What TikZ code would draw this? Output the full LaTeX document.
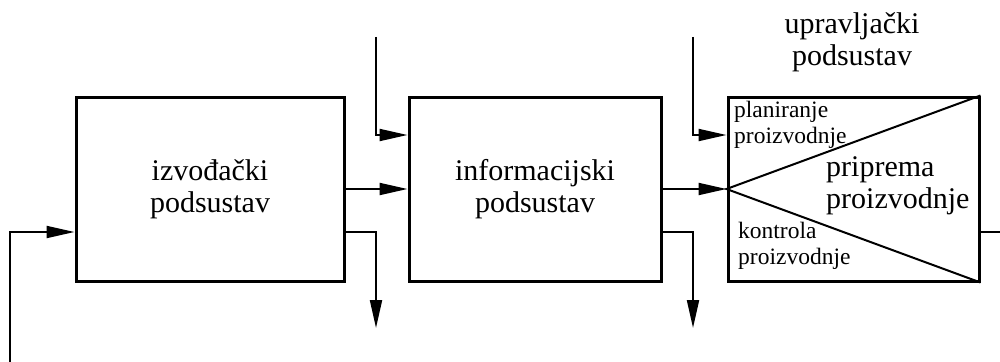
\documentclass[tikz,border=0pt]{standalone}
\usepackage{fontspec}
\setmainfont{Liberation Serif}
\usetikzlibrary{arrows.meta}
\tikzset{
  blok/.style={draw,line width=3pt,minimum width=268pt,minimum height=184pt,inner sep=0pt,
    align=center,font=\fontsize{30}{32}\selectfont},
  strel/.style={line width=2pt,-{Triangle[length=28pt,width=12pt]}},
  veza/.style={line width=2pt},
  mali/.style={inner sep=0pt,align=left,font=\fontsize{23.5}{26}\selectfont},
  veliki/.style={inner sep=0pt,align=left,font=\fontsize{30}{32}\selectfont}
}
\begin{document}
\begin{tikzpicture}[x=1pt,y=-1pt]
\useasboundingbox (0,0) rectangle (1000,361);
% blokovi
\node[blok] (izv) at (210,189) {izvođački\\podsustav};
\node[blok,minimum width=252pt] (inf) at (535,189) {informacijski\\podsustav};
\node[blok,minimum width=251pt] (upr) at (853.5,189) {};
\draw[line width=2pt] (upr.north east) -- (upr.west) -- (upr.south east);
\node[veliki,align=center,anchor=north] (naslov) at (852,12) {upravljački\\podsustav};
\node[mali,anchor=north west] (plan) at (734,101) {planiranje\\proizvodnje};
\node[mali,anchor=north west] (kontr) at (738,222) {kontrola\\proizvodnje};
\node[veliki,anchor=north west] (prip) at (826,156) {priprema\\proizvodnje};
% slobodni krajevi
\coordinate (ulaz1) at (376,37);
\coordinate (ulaz2) at (693,37);
\coordinate (izl1) at (376,328);
\coordinate (izl2) at (693,328);
\coordinate (povr) at (10,365);
\coordinate (desno) at (1004,232);
% veze
\draw[strel] (povr) |- ([yshift=-43pt]izv.west);
\draw[strel] (izv.east) -- (inf.west);
\draw[strel] ([yshift=-43pt]izv.east) -| (izl1);
\draw[strel] (ulaz1) |- ([yshift=54pt]inf.west);
\draw[strel] (inf.east) -- (upr.west);
\draw[strel] ([yshift=-43pt]inf.east) -| (izl2);
\draw[strel] (ulaz2) |- ([yshift=54pt]upr.west);
\draw[veza] ([yshift=-43pt]upr.east) -- (desno);
\end{tikzpicture}
\end{document}
